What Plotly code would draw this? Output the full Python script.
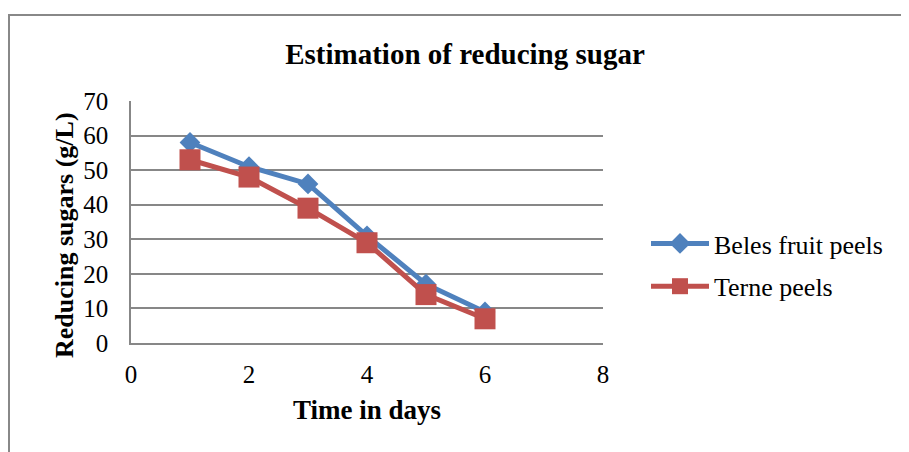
import plotly.graph_objects as go

days = [1, 2, 3, 4, 5, 6]
beles = [58, 51, 46, 31, 17, 9]
terne = [53, 48, 39, 29, 14, 7]
x_ticks = [0, 2, 4, 6, 8]
y_ticks = [0, 10, 20, 30, 40, 50, 60, 70]

W, H = 909, 452
OFF = 8  # page body margin
# plot area in page pixels: x 131..603, y 101..343
L, R, T, B = 131 - OFF, W - (603 - OFF), 101 - OFF, H - (343 - OFF)
pw, ph = W - L - R, H - T - B

def px(xp):
    return (xp - OFF - L) / pw

def py(yp):
    return (H - B - (yp - OFF)) / ph

FONT = "Liberation Serif, Times New Roman, serif"
GRID = "#878787"

fig = go.Figure()
fig.add_trace(go.Scatter(
    x=days, y=beles, name="Beles fruit peels", mode="lines+markers",
    line=dict(color="#4F81BD", width=5),
    marker=dict(symbol="diamond", size=16, color="#4F81BD"),
    legendgroup="a",
))
fig.add_trace(go.Scatter(
    x=days, y=terne, name="Terne peels", mode="lines+markers",
    line=dict(color="#C0504D", width=5),
    marker=dict(symbol="square", size=21, color="#C0504D"),
    legendgroup="b",
))

fig.update_layout(
    width=W, height=H,
    margin=dict(l=L, r=R, t=T, b=B, autoexpand=False),
    paper_bgcolor="white", plot_bgcolor="white",
    font=dict(family=FONT, color="black", size=25),
    title=dict(text="<b>Estimation of reducing sugar</b>", x=(465 - OFF) / W, xanchor="center",
               xref="container", y=1 - (54 - OFF) / H, yanchor="middle", yref="container",
               font=dict(size=29, family=FONT)),
    xaxis=dict(range=[0, 8], tickvals=x_ticks, showgrid=False, zeroline=False,
               showline=True, linecolor=GRID, linewidth=1.5,
               ticks="outside", ticklen=8, tickcolor="rgba(0,0,0,0)",
               tickfont=dict(size=25, family=FONT),
               title=dict(text="<b>Time in days</b>", font=dict(size=27, family=FONT), standoff=13)),
    yaxis=dict(range=[0, 70], tickvals=y_ticks, showgrid=True, gridcolor=GRID, gridwidth=1.5,
               zeroline=False, showline=True, linecolor=GRID, linewidth=1.5,
               ticks="outside", ticklen=16, tickcolor="rgba(0,0,0,0)",
               tickfont=dict(size=25, family=FONT)),
    legend=dict(x=px(646), y=py(265), xanchor="left", yanchor="middle",
                font=dict(size=26, family=FONT), itemwidth=58, tracegroupgap=6,
                bgcolor="rgba(0,0,0,0)"),
    annotations=[dict(text="<b>Reducing sugars (g/L)</b>", textangle=-90,
                      xref="paper", yref="paper", x=px(65), y=py(235),
                      xanchor="center", yanchor="middle", showarrow=False,
                      font=dict(size=26, family=FONT))],
    shapes=[dict(type="rect", xref="paper", yref="paper",
                 x0=px(9), x1=px(960), y0=py(500), y1=py(15),
                 line=dict(color="#888888", width=2), layer="below")],
)

fig.write_html("out.html")
